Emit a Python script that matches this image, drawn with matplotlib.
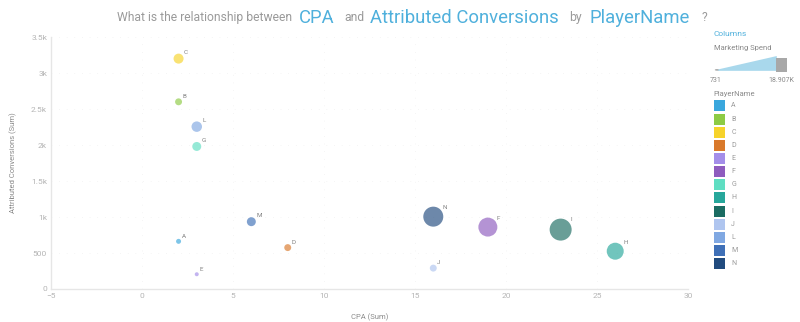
import numpy as np
import matplotlib.pyplot as plt
from matplotlib.patches import Polygon, Rectangle, Circle

plt.rcParams["font.family"] = ["Roboto", "DejaVu Sans"]

players = ["A", "B", "C", "D", "E", "F", "G", "H", "I", "J", "L", "M", "N"]
cpa = [2, 2, 2, 8, 3, 19, 3, 26, 23, 16, 3, 6, 16]
conversions = [662, 2600, 3200, 575, 205, 860, 1980, 525, 825, 290, 2255, 935, 1005]
spend = [360e3, 1.3e6, 3.4e6, 1.3e6, 731, 13.9e6, 2.6e6, 11.0e6, 18.907e6, 1.3e6, 3.8e6, 2.6e6, 15.5e6]
colors = ["#3aa7dd", "#8dcb45", "#f6d32b", "#d9792b", "#a48ee9", "#8e5cbe",
          "#5fdec2", "#27a79b", "#1b6c62", "#afc5ef", "#80a8e2", "#3f70b7", "#214b7e"]

BLUE = "#4fb0dc"
GREY = "#9a9a9a"
TICK = "#b5b5b5"

fig = plt.figure(figsize=(8, 3.22), dpi=100)
ax = fig.add_axes([0.064, 0.1025, 0.796, 0.7825])

# bubble area scales linearly with spend between the min and max diameters (px)
spend = np.array(spend)
d_min, d_max = 4.0, 22.0
area = d_min**2 + (d_max**2 - d_min**2) * (spend - spend.min()) / (spend.max() - spend.min())
diam_pt = np.sqrt(area) * 0.72
ax.scatter(cpa, conversions, s=diam_pt**2, c=colors, alpha=0.66, linewidths=0, zorder=3)

for name, x, y, d in zip(players, cpa, conversions, diam_pt):
    ax.annotate(name, (x, y), xytext=(d * 0.4 + 0.8, d * 0.28 + 0.8), textcoords="offset points",
                fontsize=4.5, color="#808080", ha="left", va="bottom")

ax.set_xlim(-5, 30)
ax.set_ylim(0, 3500)
ax.set_xticks(np.arange(-5, 31, 5))
ax.set_yticks(np.arange(0, 3501, 500))
ax.set_yticklabels(["0", "500", "1k", "1.5k", "2k", "2.5k", "3k", "3.5k"])
ax.tick_params(colors=TICK, labelsize=6, length=0, pad=3)
for side in ["top", "right"]:
    ax.spines[side].set_visible(False)
for side in ["left", "bottom"]:
    ax.spines[side].set_color("#e6e6e6")
    ax.spines[side].set_linewidth(1)
ax.grid(True, color="#ececec", linestyle=(0, (1, 10)), linewidth=0.5)
ax.set_axisbelow(True)
ax.set_xlabel("CPA (Sum)", fontsize=5.5, color="#8a8a8a", labelpad=10)
ax.set_ylabel("Attributed Conversions (Sum)", fontsize=5.5, color="#8a8a8a", labelpad=10)

# title built from plain and highlighted pieces
parts = [
    (0.146, "What is the relationship between", GREY, 8.7),
    (0.374, "CPA", BLUE, 13.3),
    (0.431, "and", GREY, 8.7),
    (0.462, "Attributed Conversions", BLUE, 13.3),
    (0.712, "by", GREY, 8.7),
    (0.737, "PlayerName", BLUE, 13.3),
    (0.877, "?", GREY, 8.7),
]
for x, txt, col, fs in parts:
    fig.text(x, 0.945, txt, color=col, fontsize=fs, ha="left", va="center")

# legend panel
fig.text(0.892, 0.893, "Columns", color=BLUE, fontsize=6, ha="left", va="center")
fig.text(0.892, 0.852, "Marketing Spend", color="#8a8a8a", fontsize=5.5, ha="left", va="center")
tri = Polygon([(0.897, 0.784), (0.971, 0.826), (0.971, 0.780), (0.897, 0.780)],
              closed=True, transform=fig.transFigure, facecolor="#a9d8ec", edgecolor="none")
fig.patches.append(tri)
fig.patches.append(Rectangle((0.970, 0.776), 0.014, 0.044, transform=fig.transFigure,
                             facecolor="#a8a8a8", edgecolor="none"))
fig.patches.append(Circle((0.896, 0.783), 0.0025, transform=fig.transFigure,
                          facecolor="#a8a8a8", edgecolor="none"))
fig.text(0.895, 0.762, "731", color="#8a8a8a", fontsize=5, ha="center", va="top")
fig.text(0.977, 0.762, "18.907K", color="#8a8a8a", fontsize=5, ha="center", va="top")
fig.text(0.892, 0.708, "PlayerName", color="#8a8a8a", fontsize=5.5, ha="left", va="center")
for i, (name, col) in enumerate(zip(players, colors)):
    yc = 0.671 - i * 0.0408
    fig.patches.append(Rectangle((0.892, yc - 0.017), 0.014, 0.034, transform=fig.transFigure,
                                 facecolor=col, edgecolor="none"))
    fig.text(0.914, yc, name, color="#9a9a9a", fontsize=5, ha="left", va="center")

fig.savefig("out.png", dpi=100)
